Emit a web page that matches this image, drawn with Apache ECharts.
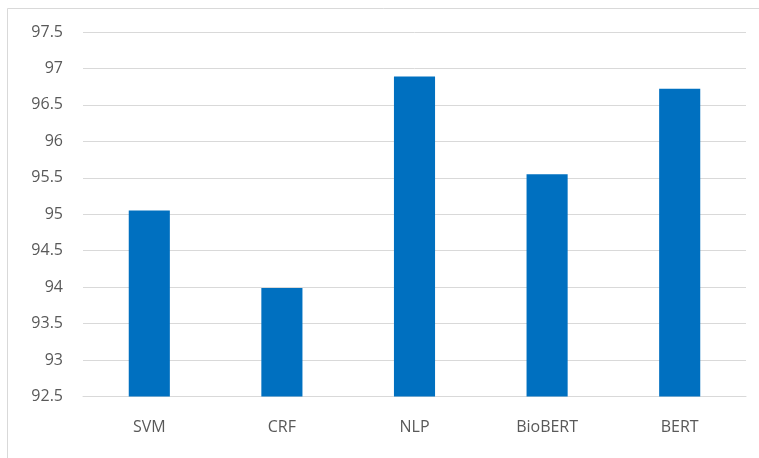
<!DOCTYPE html>
<html>
<head>
<meta charset="utf-8">
<script src="https://cdn.jsdelivr.net/npm/echarts@6/dist/echarts.min.js"></script>
<style>
  html, body { margin: 0; padding: 0; background: #fff; }
  #chart { width: 759px; height: 458px; }
</style>
</head>
<body>
<div id="chart"></div>
<script>
// Model names and their scores
const categories = ['SVM', 'CRF', 'NLP', 'BioBERT', 'BERT'];
const scores = [95.05, 93.99, 96.89, 95.55, 96.72];

const chart = echarts.init(document.getElementById('chart'));
chart.setOption({
  animation: false,
  backgroundColor: '#ffffff',
  graphic: [{
    type: 'rect',
    shape: { x: 7.5, y: 8.5, width: 800, height: 500 },
    style: { fill: 'none', stroke: '#d9d9d9', lineWidth: 1 },
    silent: true
  }],
  grid: { left: 83, right: 13, top: 32, bottom: 61.5, containLabel: false },
  xAxis: {
    type: 'category',
    data: categories,
    axisTick: { show: false },
    axisLine: { lineStyle: { color: '#d9d9d9', width: 1 } },
    axisLabel: { color: '#595959', fontFamily: 'Open Sans', fontSize: 16, margin: 23 }
  },
  yAxis: {
    type: 'value',
    min: 92.5,
    max: 97.5,
    interval: 0.5,
    axisLine: { show: false },
    axisTick: { show: false },
    axisLabel: { color: '#595959', fontFamily: 'Open Sans', fontSize: 16, margin: 20 },
    splitLine: { lineStyle: { color: '#d9d9d9', width: 1 } }
  },
  series: [{
    type: 'bar',
    data: scores,
    barWidth: '31%',
    itemStyle: { color: '#0070c0' }
  }]
});
</script>
</body>
</html>
